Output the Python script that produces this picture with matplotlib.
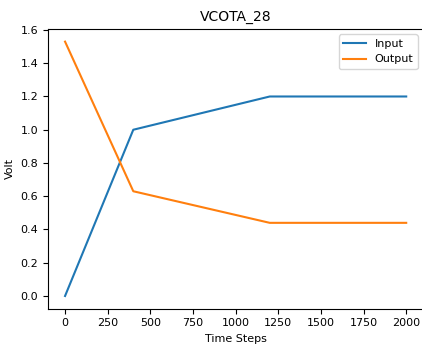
import matplotlib
matplotlib.use("Agg")
import matplotlib.pyplot as plt

time_steps = [0, 400, 1200, 2000]
input_volt = [0.0, 1.0, 1.2, 1.2]
output_volt = [1.53, 0.63, 0.44, 0.44]

fig = plt.figure(figsize=(4.22, 3.45), dpi=100)
ax = fig.add_axes([48/422, 0.1052, 1.003 - 48/422, 0.9162 - 0.1052])
ax.plot(time_steps, input_volt, label="Input", color="#1f77b4")
ax.plot(time_steps, output_volt, label="Output", color="#ff7f0e")
ax.set_title("VCOTA_28", fontsize=10)
ax.set_xlabel("Time Steps", fontsize=8)
ax.set_ylabel("Volt", fontsize=8)
ax.tick_params(labelsize=8)
ax.set_xticks([0, 250, 500, 750, 1000, 1250, 1500, 1750, 2000])
ax.legend(loc="upper right", fontsize=8)
fig.savefig("out.png", dpi=100)
